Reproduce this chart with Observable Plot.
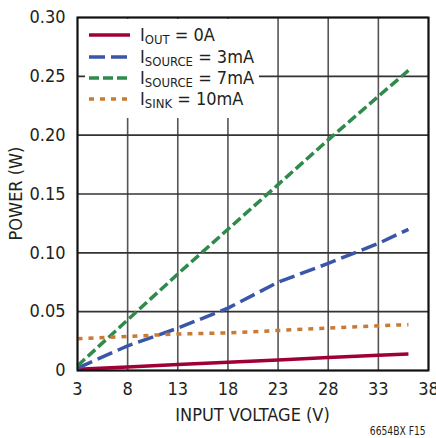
<!DOCTYPE html>
<html>
<head>
<meta charset="utf-8">
<script src="https://cdn.jsdelivr.net/npm/d3@7"></script>
<script src="https://cdn.jsdelivr.net/npm/@observablehq/plot@0.6"></script>
<style>
  body { margin: 0; background: white; }
  #wrap { position: relative; width: 436px; height: 438px; font-family: "Liberation Sans Narrow", "DejaVu Sans Condensed", "Roboto Condensed", sans-serif; color: #231f20; }
  #legend { position: absolute; left: 85px; top: 19px; width: 174px; height: 99px; background: white; }
  .row { position: absolute; left: 4px; height: 18px; line-height: 18px; display: flex; align-items: center; font-size: 18px; white-space: nowrap; }
  .row svg { margin-right: 10px; }
  .row sub { font-size: 13px; vertical-align: -3px; line-height: 0; }
  #caption { position: absolute; right: 10px; top: 424px; font-size: 12px; transform: scaleX(0.85); transform-origin: right center; }
</style>
</head>
<body>
<div id="wrap"></div>
<script>
// Data
const voltage   = [3, 8, 13, 18, 23, 28, 33, 36];
const iOut0     = [0.001, 0.003, 0.005, 0.007, 0.009, 0.011, 0.013, 0.014];
const iSource3  = [0.002, 0.021, 0.036, 0.053, 0.075, 0.091, 0.108, 0.120];
const iSource7  = [0.004, 0.043, 0.082, 0.120, 0.158, 0.196, 0.233, 0.255];
const iSink10   = [0.027, 0.029, 0.031, 0.032, 0.034, 0.036, 0.038, 0.039];
const xTicks = [3, 8, 13, 18, 23, 28, 33, 38];
const yTicks = [0, 0.05, 0.10, 0.15, 0.20, 0.25, 0.30];
const xLabel = "INPUT VOLTAGE (V)";
const yLabel = "POWER (W)";

const seriesNames = ["IOUT = 0A", "ISOURCE = 3mA", "ISOURCE = 7mA", "ISINK = 10mA"];
const seriesValues = [iOut0, iSource3, iSource7, iSink10];
const seriesColors = ["#a00038", "#3a56a8", "#2f8a4c", "#c97a34"];
const seriesDash = [null, "16,6", "10,4", "5,6"];

const rows = [];
seriesValues.forEach((vals, k) => vals.forEach((v, i) => rows.push({series: seriesNames[k], x: voltage[i], y: v})));

const font = '"Liberation Sans Narrow", "DejaVu Sans Condensed", "Roboto Condensed", sans-serif';

const chart = Plot.plot({
  width: 436,
  height: 438,
  marginLeft: 77,
  marginRight: 8,
  marginTop: 17,
  marginBottom: 68,
  style: {fontFamily: font, fontSize: "18px", color: "#231f20", background: "white"},
  x: {domain: [3, 38], ticks: xTicks, tickSize: 0, tickPadding: 12, label: null},
  y: {domain: [0, 0.3], ticks: yTicks, tickSize: 0, tickPadding: 12, tickFormat: d => d === 0 ? "0" : d.toFixed(2), label: null},
  marks: [
    Plot.ruleX(xTicks, {stroke: "#555", strokeWidth: 1.6}),
    Plot.ruleY(yTicks, {stroke: "#333", strokeWidth: 1.6}),
    ...seriesNames.map((name, k) => Plot.line(rows.filter(d => d.series === name), {
      x: "x", y: "y", stroke: seriesColors[k], strokeWidth: 3.5,
      strokeDasharray: seriesDash[k] || undefined, strokeLinecap: "butt"
    })),
    Plot.frame({stroke: "#111", strokeWidth: 2})
  ]
});

// Axis titles placed relative to the plot's own scales
const sx = chart.scale("x"), sy = chart.scale("y");
const cx = (sx.range[0] + sx.range[1]) / 2;
const cy = (sy.range[0] + sy.range[1]) / 2;
const svg = d3.select(chart);
svg.append("text")
  .attr("x", cx).attr("y", sy.range[0] + 51)
  .attr("text-anchor", "middle").attr("fill", "#231f20")
  .style("font-size", "18px").text(xLabel);
svg.append("text")
  .attr("transform", `translate(${sx.range[0] - 55},${cy}) rotate(-90)`)
  .attr("text-anchor", "middle").attr("fill", "#231f20")
  .style("font-size", "18px").text(yLabel);

const wrap = document.getElementById("wrap");
wrap.appendChild(chart);

// Legend overlay
const legend = document.createElement("div");
legend.id = "legend";
const labels = [["OUT", " = 0A"], ["SOURCE", " = 3mA"], ["SOURCE", " = 7mA"], ["SINK", " = 10mA"]];
const rowTops = [7, 29, 50, 71];
labels.forEach((lab, k) => {
  const r = document.createElement("div");
  r.className = "row";
  r.style.top = rowTops[k] + "px";
  const dash = seriesDash[k] ? `stroke-dasharray="${seriesDash[k]}"` : "";
  r.innerHTML = `<svg width="41" height="8"><line x1="0" y1="4" x2="41" y2="4" stroke="${seriesColors[k]}" stroke-width="3.5" ${dash}/></svg><span>I<sub>${lab[0]}</sub>${lab[1]}</span>`;
  legend.appendChild(r);
});
wrap.appendChild(legend);

const cap = document.createElement("div");
cap.id = "caption";
cap.textContent = "6654BX F15";
wrap.appendChild(cap);
</script>
</body>
</html>
